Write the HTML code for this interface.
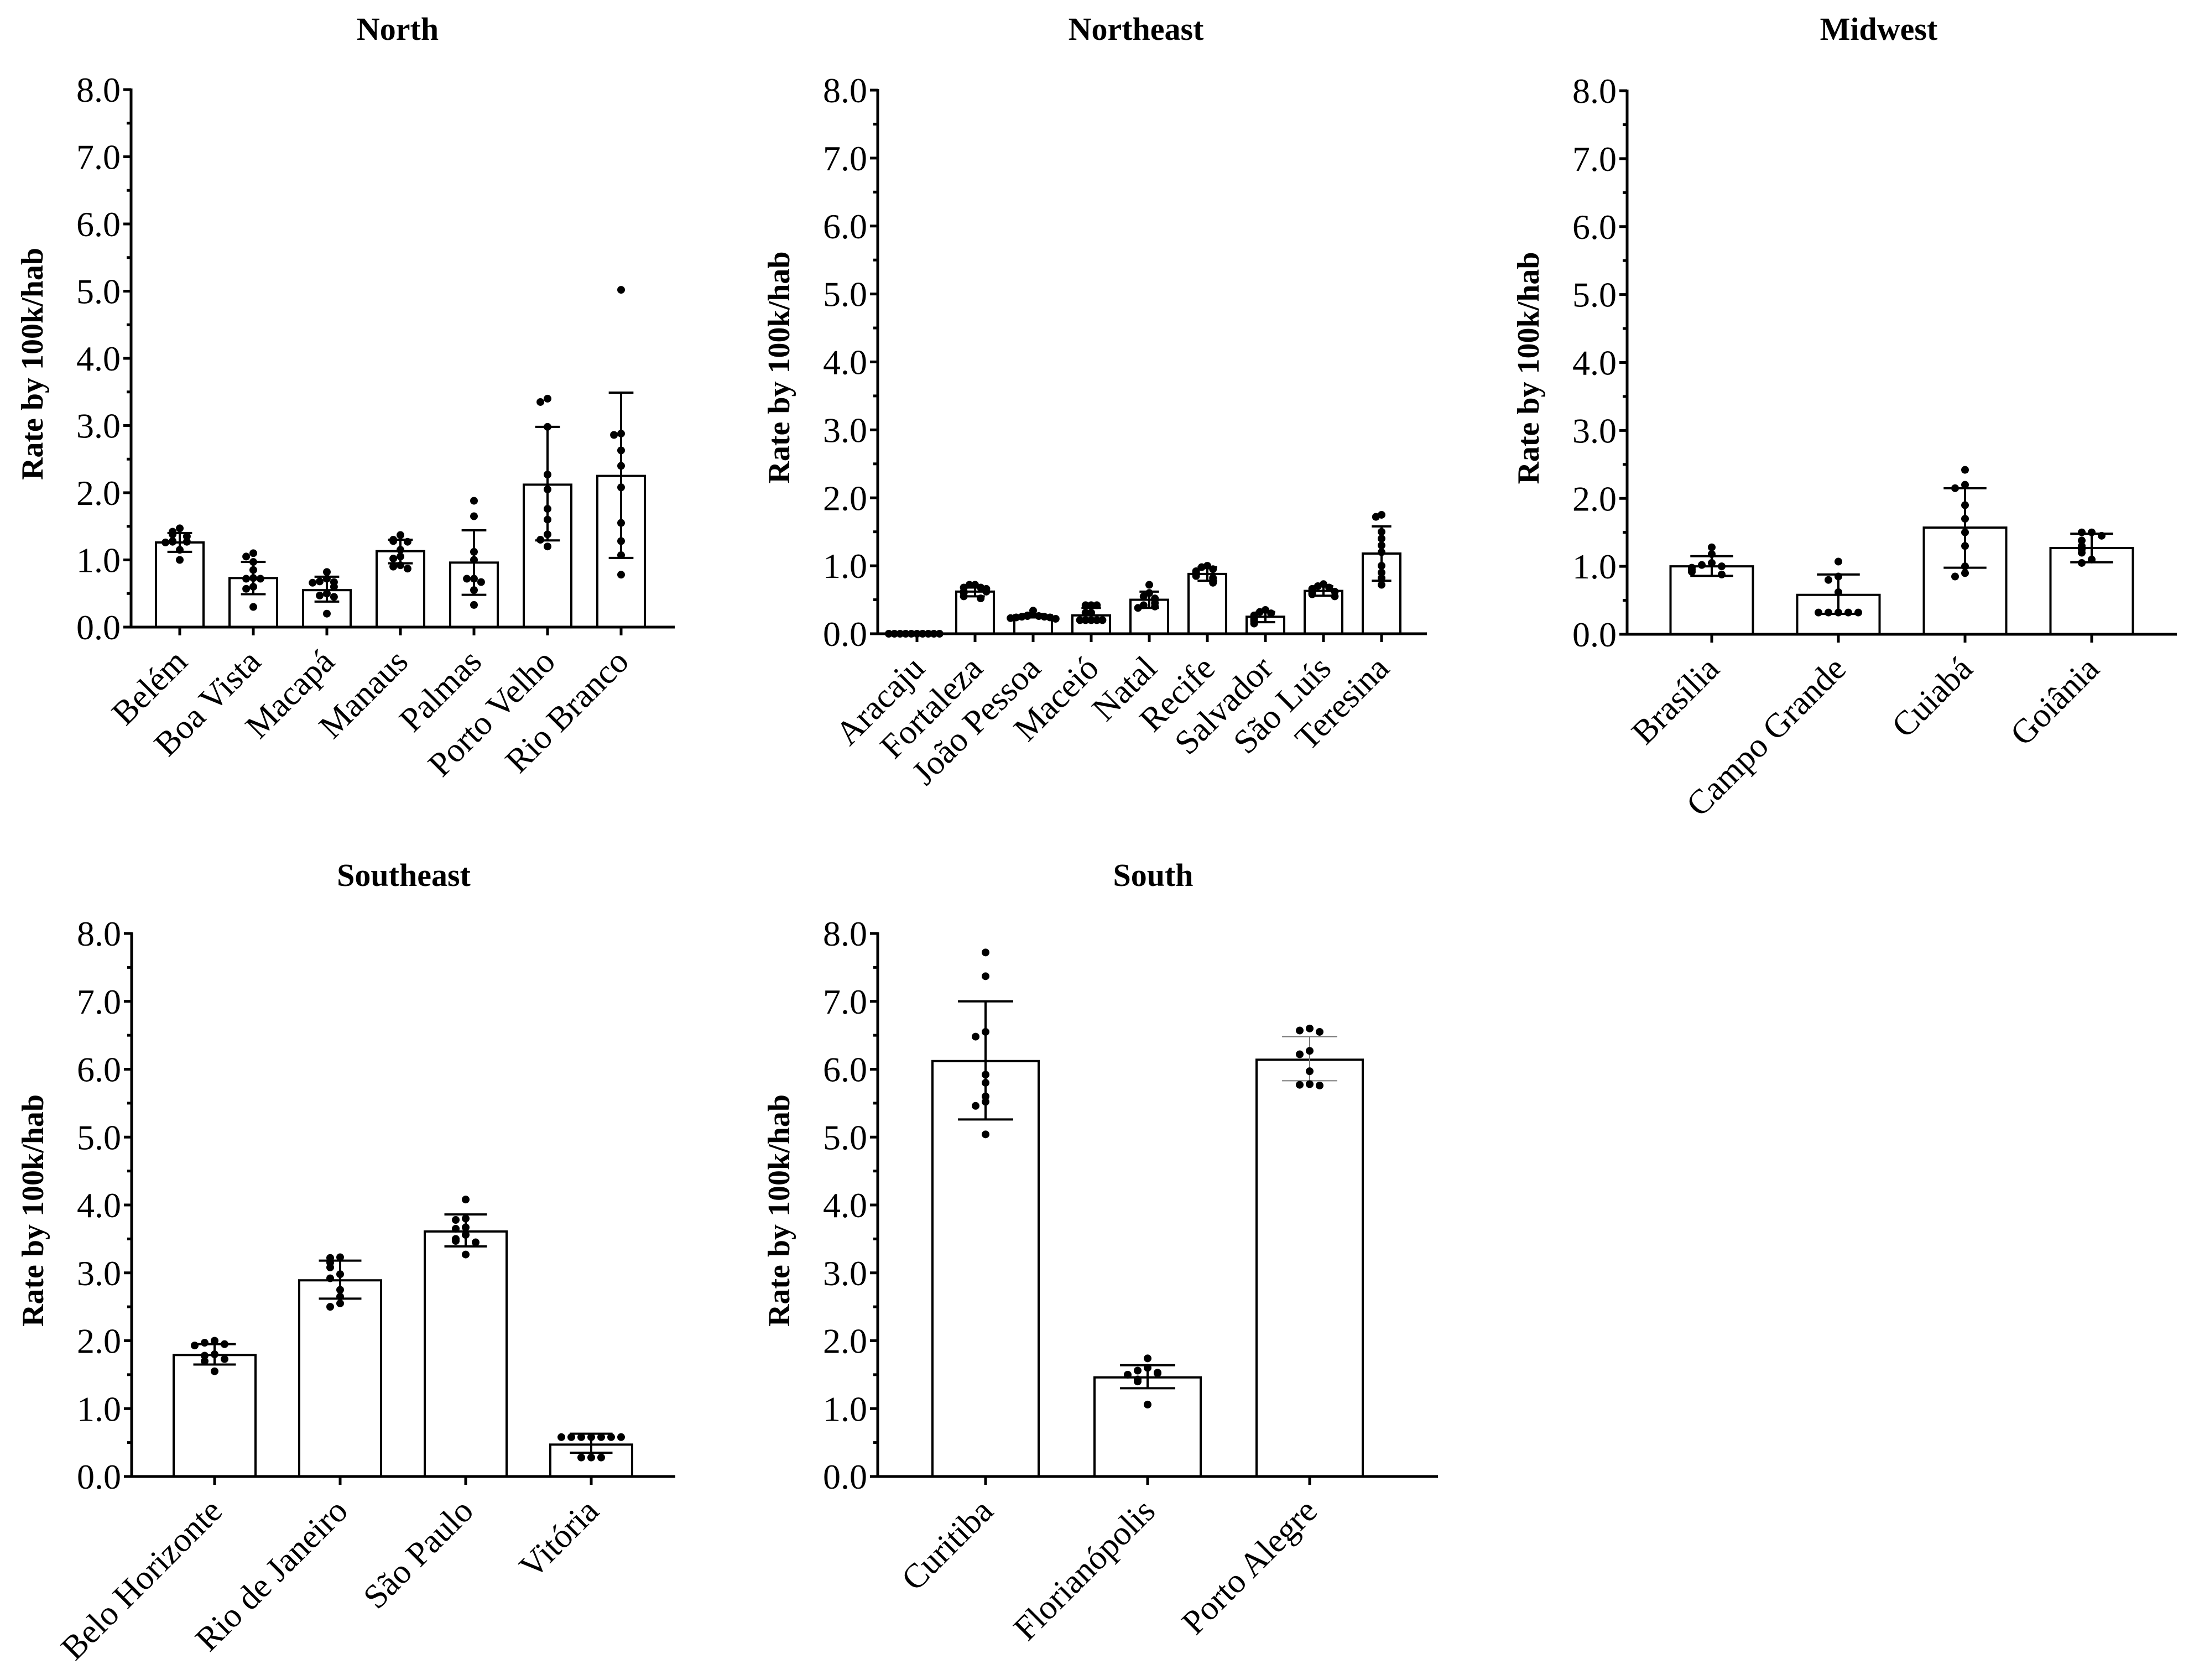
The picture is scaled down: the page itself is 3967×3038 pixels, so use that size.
<!DOCTYPE html>
<html><head><meta charset="utf-8"><style>
html,body{margin:0;padding:0;background:#fff;}
svg, svg text{font-family:"Liberation Serif","Times New Roman",serif;}
</style></head><body>
<svg id="fig" width="3967" height="3033" viewBox="0 0 3967 3033" xmlns="http://www.w3.org/2000/svg" font-family="Liberation Serif, serif"></svg>
<script>
// ---- data ----
const northCities = ["Belém","Boa Vista","Macapá","Manaus","Palmas","Porto Velho","Rio Branco"];
const northMeans = [1.26,0.73,0.55,1.13,0.96,2.12,2.25];
const northErrHi = [1.40,0.97,0.75,1.30,1.44,2.98,3.49];
const northErrLo = [1.12,0.49,0.38,0.95,0.48,1.29,1.03];
const northPoints = [
 [1.47,1.42,1.38,1.35,1.28,1.27,1.27,1.26,1.15,1.0],
 [1.10,1.05,0.97,0.85,0.73,0.72,0.72,0.6,0.57,0.3],
 [0.82,0.72,0.68,0.67,0.66,0.6,0.5,0.47,0.45,0.2],
 [1.37,1.30,1.28,1.27,1.15,1.05,1.02,0.92,0.90,0.87],
 [1.88,1.65,1.12,1.0,0.72,0.72,0.67,0.55,0.33],
 [3.40,3.35,2.98,2.27,2.05,1.76,1.60,1.38,1.30,1.20],
 [5.02,2.88,2.86,2.63,2.40,2.08,1.55,1.28,1.07,0.78]];

const northeastCities = ["Aracaju","Fortaleza","João Pessoa","Maceió","Natal","Recife","Salvador","São Luís","Teresina"];
const northeastMeans = [0,0.62,0.27,0.27,0.5,0.88,0.25,0.63,1.18];
const northeastErrHi = [0,0.68,0.29,0.38,0.62,0.98,0.32,0.70,1.58];
const northeastErrLo = [0,0.55,0.24,0.17,0.38,0.78,0.17,0.56,0.78];
const northeastPoints = [
 [0,0,0,0,0,0,0,0,0,0],
 [0.72,0.72,0.68,0.68,0.66,0.62,0.62,0.6,0.55,0.52],
 [0.34,0.27,0.26,0.26,0.25,0.25,0.24,0.24,0.23,0.22],
 [0.42,0.42,0.42,0.31,0.31,0.2,0.2,0.2,0.2,0.2],
 [0.72,0.6,0.55,0.52,0.5,0.45,0.42,0.4,0.38],
 [1.0,0.98,0.95,0.92,0.9,0.88,0.85,0.82,0.78,0.75],
 [0.35,0.32,0.3,0.27,0.25,0.22,0.2,0.18,0.15],
 [0.73,0.7,0.68,0.66,0.63,0.62,0.6,0.58,0.55],
 [1.75,1.72,1.5,1.4,1.3,1.2,1.0,0.9,0.82,0.72]];

const midwestCities = ["Brasília","Campo Grande","Cuiabá","Goiânia"];
const midwestMeans = [1.0,0.58,1.57,1.27];
const midwestErrHi = [1.15,0.88,2.15,1.48];
const midwestErrLo = [0.86,0.30,0.98,1.06];
const midwestPoints = [
 [1.28,1.18,1.05,1.02,1.0,0.98,0.95,0.92,0.88],
 [1.07,0.85,0.8,0.62,0.32,0.32,0.32,0.32,0.32],
 [2.42,2.2,2.15,1.9,1.7,1.5,1.3,1.0,0.9,0.85],
 [1.5,1.5,1.45,1.38,1.3,1.25,1.2,1.1,1.05]];

const southeastCities = ["Belo Horizonte","Rio de Janeiro","São Paulo","Vitória"];
const southeastMeans = [1.79,2.89,3.61,0.47];
const southeastErrHi = [1.95,3.18,3.86,0.63];
const southeastErrLo = [1.65,2.62,3.39,0.35];
const southeastPoints = [
 [2.0,1.97,1.95,1.93,1.8,1.78,1.73,1.7,1.55],
 [3.23,3.22,3.15,3.08,2.98,2.92,2.75,2.65,2.55,2.5],
 [4.08,3.8,3.78,3.67,3.65,3.56,3.5,3.47,3.45,3.27],
 [0.58,0.58,0.58,0.58,0.58,0.58,0.58,0.28,0.28,0.28]];

const southCities = ["Curitiba","Florianópolis","Porto Alegre"];
const southMeans = [6.12,1.46,6.14];
const southErrHi = [7.0,1.64,6.48];
const southErrLo = [5.26,1.30,5.83];
const southPoints = [
 [7.72,7.37,6.55,6.48,5.92,5.8,5.6,5.52,5.46,5.04],
 [1.74,1.6,1.56,1.53,1.52,1.5,1.43,1.4,1.06],
 [6.6,6.57,6.55,6.27,6.22,5.97,5.78,5.77,5.76]];

const yTickValues = [0,1,2,3,4,5,6,7,8];
const yTickLabels = ["0.0","1.0","2.0","3.0","4.0","5.0","6.0","7.0","8.0"];
const yMax = 8;

// ---- layout ----
const panels = [
 {name:"north",title:"North",cities:northCities,means:northMeans,hi:northErrHi,lo:northErrLo,pts:northPoints,
  ax:237,top:162,zero:1134,first:325,step:133,bw:86,xend:1220,tx:719,ty:72},
 {name:"northeast",title:"Northeast",cities:northeastCities,means:northeastMeans,hi:northeastErrHi,lo:northeastErrLo,pts:northeastPoints,
  ax:1587,top:163,zero:1146,first:1658,step:105,bw:68,xend:2580,tx:2054,ty:72},
 {name:"midwest",title:"Midwest",cities:midwestCities,means:midwestMeans,hi:midwestErrHi,lo:midwestErrLo,pts:midwestPoints,
  ax:2942,top:164,zero:1147,first:3095,step:229,bw:149,xend:3936,tx:3397,ty:72},
 {name:"southeast",title:"Southeast",cities:southeastCities,means:southeastMeans,hi:southeastErrHi,lo:southeastErrLo,pts:southeastPoints,
  ax:238,top:1688,zero:2670,first:388,step:227,bw:148,xend:1221,tx:730,ty:1602},
 {name:"south",title:"South",cities:southCities,means:southMeans,hi:southErrHi,lo:southErrLo,pts:southPoints,
  ax:1587,top:1688,zero:2670,first:1782,step:293,bw:192,xend:2600,tx:2085,ty:1602,grayErr:[2]}
];

const NS="http://www.w3.org/2000/svg";
const FF="Liberation Serif, Times New Roman, serif";
const svg=document.getElementById('fig');
function mk(tag,attrs,parent){const e=document.createElementNS(NS,tag);for(const k in attrs)e.setAttribute(k,attrs[k]);(parent||svg).appendChild(e);return e;}

panels.forEach(p=>{
  const g=mk('g',{});
  
  
  const y=v=>p.zero-(v/yMax)*(p.zero-p.top);
  const x=i=>p.first+i*p.step;

  const t=mk('text',{x:p.tx,y:p.ty,'text-anchor':'middle','font-size':58,'font-weight':'bold','font-family':FF},g);
  t.textContent=p.title;
  
  

  const yl=mk('text',{x:0,y:0,'text-anchor':'middle','font-size':56,'font-weight':'bold','font-family':FF,transform:`translate(${p.ax-160},${(p.top+p.zero)/2+10}) rotate(-90)`},g);
  yl.textContent="Rate by 100k/hab";
  
  

  p.means.forEach((m,i)=>{
    const r=mk('rect',{x:x(i)-p.bw/2,y:y(m),width:p.bw,height:p.zero-y(m),fill:'#fff',stroke:'#000','stroke-width':4},g);
    
    
  });
  p.means.forEach((m,i)=>{
    const gray=p.grayErr&&p.grayErr.includes(i);
    const col=gray?'#777':'#000', sw=gray?2:4, cw=p.bw*0.26;
    const eg=mk('g',{stroke:col,'stroke-width':sw},g);
    
    
    mk('line',{x1:x(i),x2:x(i),y1:y(p.hi[i]),y2:y(p.lo[i])},eg);
    mk('line',{x1:x(i)-cw,x2:x(i)+cw,y1:y(p.hi[i]),y2:y(p.hi[i])},eg);
    mk('line',{x1:x(i)-cw,x2:x(i)+cw,y1:y(p.lo[i]),y2:y(p.lo[i])},eg);
  });
  const pattern=[0,-1,1,-2,2,-3,3,-4,4,-5,5];
  p.pts.forEach((arr,i)=>{
    const dx=Math.min(18,p.bw*0.15);
    arr.forEach((v,j)=>{
      let c=0;for(let k=0;k<j;k++)if(Math.abs(arr[k]-v)<0.08)c++;
      const c1=mk('circle',{cx:x(i)+pattern[Math.min(c,10)]*dx,cy:y(v),r:7,fill:'#000'},g);
      
      
    });
  });
  const axg=mk('g',{stroke:'#000','stroke-width':5,fill:'none'},g);
  
  
  mk('line',{x1:p.ax,x2:p.ax,y1:p.top-2,y2:p.zero+2},axg);
  mk('line',{x1:p.ax-14,x2:p.xend,y1:p.zero,y2:p.zero},axg);
  yTickValues.forEach((v,k)=>{
    mk('line',{x1:p.ax-14,x2:p.ax,y1:y(v),y2:y(v)},axg);
    if(v<yMax) mk('line',{x1:p.ax-8,x2:p.ax,y1:y(v+0.5),y2:y(v+0.5)},axg);
    const tl=mk('text',{x:p.ax-19,y:y(v)+22,'text-anchor':'end','font-size':64,'font-family':FF},g);
    tl.textContent=yTickLabels[k];
    
    
  });
  p.cities.forEach((c,i)=>{
    mk('line',{x1:x(i),x2:x(i),y1:p.zero,y2:p.zero+15},axg);
    const xl=mk('text',{x:0,y:0,'text-anchor':'end','font-size':62,'font-family':FF,transform:`translate(${x(i)+17},${p.zero+66}) rotate(-45)`},g);
    xl.textContent=c;
    
    
  });
});
</script>
</body></html>
